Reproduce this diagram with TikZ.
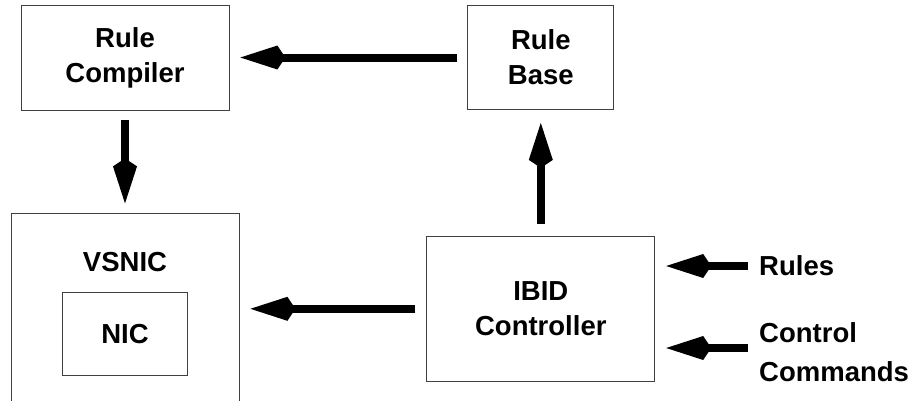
\documentclass[tikz,border=0pt]{standalone}
\usepackage{fontspec}
\setmainfont{Liberation Sans}
\usetikzlibrary{arrows.meta, positioning}

\begin{document}
\begin{tikzpicture}[
        x=1pt, y=-1pt,
        every node/.style={font=\fontsize{27.5}{35}\selectfont\bfseries},
        box/.style={rectangle, draw=black!75, line width=0.8pt, align=center, inner sep=0pt},
        tag/.style={align=left, inner sep=2pt, anchor=west, font=\fontsize{27.5}{39}\selectfont\bfseries},
        arrow/.style={line width=8pt, -{Kite[length=45pt, width=24pt, inset=8pt]}}
    ]
        \useasboundingbox (0,0) rectangle (921,400);
        \clip (0,0) rectangle (921,400);

        % Rules
        \node[box, minimum width=208pt, minimum height=105pt] (compiler) at (125,57.5) {Rule\\Compiler};
        \node[box, minimum width=146pt, minimum height=104pt] (base) [right=238pt of compiler] {Rule\\Base};

        % Adapter
        \node[box, minimum width=228pt, minimum height=215pt] (vsnic) [below=103pt of compiler] {};
        \node (vsnictitle) at (125,262) {VSNIC};
        \node[box, minimum width=125pt, minimum height=83pt] (nic) [below=79pt of vsnic.north] {NIC};

        % Controller
        \node[box, minimum width=228pt, minimum height=145pt] (ibid) [below=126pt of base] {IBID\\Controller};

        % Inputs
        \node[tag] (rules) at (757,266) {Rules};
        \node[tag] (commands) at (757,352) {Control\\Commands};

        % Arrows
        \draw[arrow, shorten <=10pt, shorten >=11pt] (base.west) -- (compiler.east);
        \draw[arrow, shorten <=10pt, shorten >=10pt] (compiler.south) -- (vsnic.north);
        \draw[arrow, shorten <=12pt, shorten >=13pt] (ibid.north) -- (base.south);
        \draw[arrow, shorten <=11pt, shorten >=11pt] (ibid.west) -- (ibid.west -| vsnic.east);

        \draw[arrow, shorten <=9pt, shorten >=11pt] (rules.west) -- (rules.west -| ibid.east);
        \draw[arrow, shorten <=9pt, shorten >=11pt] ([yshift=4pt]commands.west) -- ([yshift=4pt]commands.west -| ibid.east);
    \end{tikzpicture}
\end{document}
